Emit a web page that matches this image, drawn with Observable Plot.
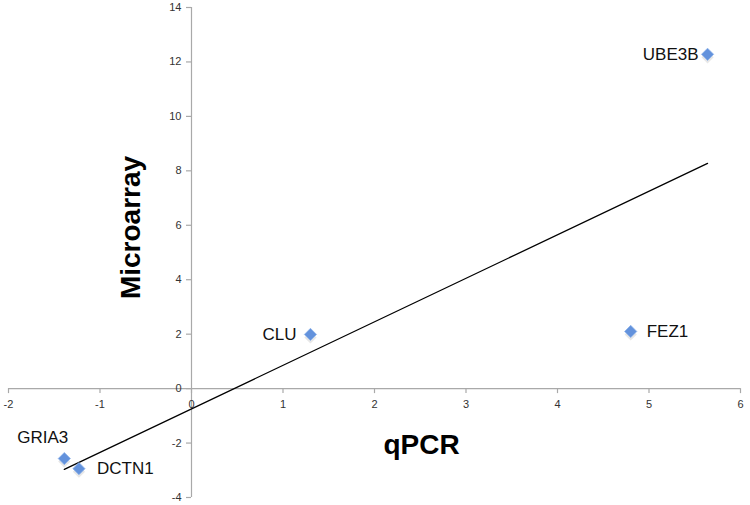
<!DOCTYPE html>
<html><head><meta charset="utf-8">
<script src="https://cdn.jsdelivr.net/npm/d3@7"></script>
<script src="https://cdn.jsdelivr.net/npm/@observablehq/plot@0.6"></script>
<style>body{margin:0;background:#fff} #chart svg{display:block}</style>
</head><body><div id="chart"></div>
<script>
const genes = ["UBE3B", "FEZ1", "CLU", "GRIA3", "DCTN1"];
const qpcr = [5.64, 4.80, 1.30, -1.39, -1.23];
const microarray = [12.28, 2.10, 1.99, -2.57, -2.94];
const xTicks = [-2, -1, 0, 1, 2, 3, 4, 5, 6];
const yTicks = [-4, -2, 0, 2, 4, 6, 8, 10, 12, 14];
const xTitle = "qPCR";
const yTitle = "Microarray";

const data = genes.map((g, i) => ({gene: g, x: qpcr[i], y: microarray[i]}));
const font = "'Liberation Sans', Arial, sans-serif";
const axisColor = "#a9a9a9";

const label = (name, opts) => Plot.text(data.filter(d => d.gene === name), {
  x: "x", y: "y", text: "gene", fontSize: 17, fill: "#111", fontFamily: font, ...opts
});

const chart = Plot.plot({
  width: 750, height: 505,
  marginLeft: 8, marginRight: 10, marginTop: 7, marginBottom: 8,
  x: {domain: [d3.min(xTicks), d3.max(xTicks)], axis: null},
  y: {domain: [d3.min(yTicks), d3.max(yTicks)], axis: null},
  style: {fontFamily: font, background: "#fff"},
  marks: [
    Plot.ruleY([0], {x1: d3.min(xTicks), x2: d3.max(xTicks), stroke: axisColor, strokeWidth: 1.2}),
    Plot.ruleX([0], {y1: d3.min(yTicks), y2: d3.max(yTicks), stroke: axisColor, strokeWidth: 1.2}),
    Plot.ruleX(xTicks, {x: d => d, y1: 0, y2: 0, insetBottom: -5, stroke: axisColor, strokeWidth: 1.2}),
    Plot.ruleY(yTicks, {y: d => d, x1: 0, x2: 0, insetLeft: -5, stroke: axisColor, strokeWidth: 1.2}),
    Plot.text(xTicks, {x: d => d, y: 0, text: d => String(d), dy: 16, fontSize: 11, fill: "#333", fontFamily: font}),
    Plot.text(yTicks, {x: 0, y: d => d, text: d => String(d), dx: -10, textAnchor: "end", fontSize: 11, fill: "#333", fontFamily: font}),
    Plot.linearRegressionY(data, {x: "x", y: "y", stroke: "#000", strokeWidth: 1.3, ci: 0}),
    Plot.dot(data, {x: "x", y: "y", symbol: "diamond2", r: 5.5, fill: "#bbb", fillOpacity: 0.35, dy: 3}),
    Plot.dot(data, {x: "x", y: "y", symbol: "diamond2", r: 5.5, fill: "#6392dc", stroke: "#8db2ea", strokeWidth: 0.8}),
    label("UBE3B", {textAnchor: "end", dx: -9}),
    label("FEZ1", {textAnchor: "start", dx: 16}),
    label("CLU", {textAnchor: "end", dx: -14}),
    label("GRIA3", {textAnchor: "end", dx: 4, dy: -21}),
    label("DCTN1", {textAnchor: "start", dx: 18}),
    Plot.text([xTitle], {frameAnchor: "middle", dx: 47, dy: 193, fontSize: 28, fontWeight: "bold", fill: "#000", fontFamily: font}),
    Plot.text([yTitle], {frameAnchor: "middle", dx: -243, dy: -25, rotate: -90, fontSize: 28, fontWeight: "bold", fill: "#000", fontFamily: font})
  ]
});
document.getElementById("chart").append(chart);
</script>
</body></html>
